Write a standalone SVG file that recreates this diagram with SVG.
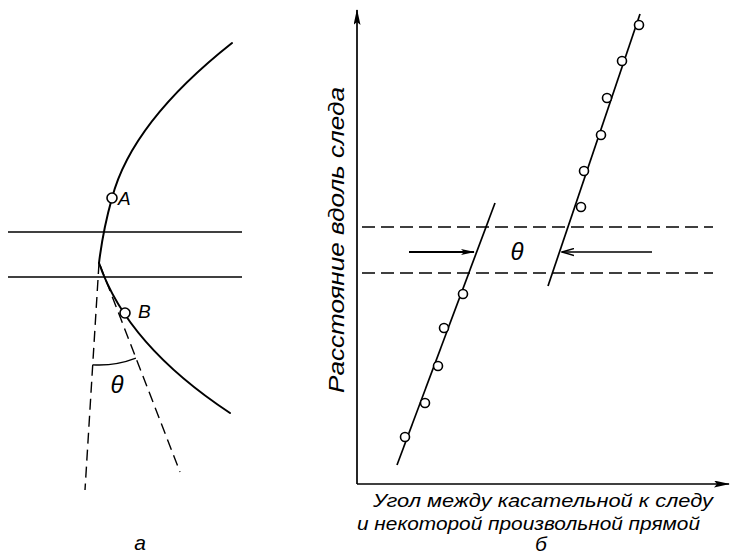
<svg xmlns="http://www.w3.org/2000/svg" width="732" height="560" viewBox="0 0 732 560">
<defs>
<style>
.s{fill:none;stroke:#000;stroke-width:2;stroke-linecap:round}
.t{fill:none;stroke:#000;stroke-width:1.7}
.d{fill:none;stroke:#000;stroke-width:1.4;stroke-dasharray:11 6}
.dr{fill:none;stroke:#000;stroke-width:1.3;stroke-dasharray:13 6}
.p{fill:#fff;stroke:#000;stroke-width:1.6}
.lbl{font-family:"Liberation Sans",Arial,sans-serif;font-style:italic;fill:#000}
</style>
<marker id="ah" viewBox="0 0 14 6" refX="13" refY="3" markerWidth="14" markerHeight="6" markerUnits="userSpaceOnUse" orient="auto">
<path d="M0,0 L14,3 L0,6 L3,3 Z" fill="#000"/>
</marker>
<marker id="ahx" viewBox="0 0 16 7" refX="15" refY="3.5" markerWidth="16" markerHeight="7" markerUnits="userSpaceOnUse" orient="auto">
<path d="M0,0 L16,3.5 L0,7 L3,3.5 Z" fill="#000"/>
</marker>
<marker id="ao" viewBox="0 0 13 9" refX="12" refY="4.5" markerWidth="13" markerHeight="9" markerUnits="userSpaceOnUse" orient="auto">
<path d="M0,1 L12,4.5 L0,8" fill="none" stroke="#000" stroke-width="1.4"/>
</marker>
</defs>
<rect width="732" height="560" fill="#fff"/>

<g id="fig-a">
<line class="t" x1="8" y1="232" x2="242" y2="232"/>
<line class="t" x1="8" y1="277" x2="242" y2="277"/>
<path class="s" d="M232,43 Q132,122 112,198 Q103,230 99,263"/>
<path class="s" d="M99,263 Q127,345 230,413"/>
<line class="d" x1="99" y1="263" x2="85" y2="490"/>
<line class="d" x1="100" y1="265" x2="180" y2="472"/>
<path d="M92.7,364.8 A102,102 0 0 0 135.9,358.1" fill="none" stroke="#000" stroke-width="1.3"/>
<text class="lbl" x="117" y="393" font-size="24" text-anchor="middle">θ</text>
<text class="lbl" x="140" y="550" font-size="21" text-anchor="middle">а</text>
</g>
<g id="point-A">
<circle class="p" cx="112" cy="198" r="5"/>
<text class="lbl" x="118" y="205" font-size="19">A</text>
</g>
<g id="point-B">
<circle class="p" cx="125" cy="313" r="5"/>
<text class="lbl" x="138" y="318" font-size="19">B</text>
</g>

<g id="fig-b">
<line class="t" x1="357" y1="484" x2="357" y2="10" marker-end="url(#ahx)"/>
<line class="t" x1="357" y1="484" x2="729" y2="484" marker-end="url(#ahx)"/>
<text class="lbl" font-size="22" text-anchor="middle" transform="translate(344,240) rotate(-90)" textLength="306" lengthAdjust="spacingAndGlyphs">Расстояние вдоль следа</text>
<text class="lbl" x="373" y="507" font-size="19" textLength="340" lengthAdjust="spacingAndGlyphs">Угол между касательной к следу</text>
<text class="lbl" x="357" y="530" font-size="19" textLength="343" lengthAdjust="spacingAndGlyphs">и некоторой произвольной прямой</text>
<text class="lbl" x="541" y="551" font-size="21" text-anchor="middle">б</text>
<line class="dr" x1="362" y1="227" x2="713" y2="227"/>
<line class="dr" x1="362" y1="273" x2="713" y2="273"/>
<text class="lbl" x="517" y="260" font-size="24" text-anchor="middle">θ</text>
</g>
<g id="track-1">
<line class="t" x1="495" y1="203" x2="397" y2="465"/>
<circle class="p" cx="463" cy="294" r="4.5"/>
<circle class="p" cx="444" cy="328" r="4.5"/>
<circle class="p" cx="438" cy="366" r="4.5"/>
<circle class="p" cx="425" cy="403" r="4.5"/>
<circle class="p" cx="405" cy="437" r="4.5"/>
</g>
<g id="track-2">
<line class="t" x1="640" y1="14" x2="548" y2="286"/>
<circle class="p" cx="639" cy="25" r="4.5"/>
<circle class="p" cx="622" cy="61" r="4.5"/>
<circle class="p" cx="607" cy="98" r="4.5"/>
<circle class="p" cx="601" cy="135" r="4.5"/>
<circle class="p" cx="584" cy="171" r="4.5"/>
<circle class="p" cx="581" cy="207" r="4.5"/>
</g>

<g id="connectors">
<line x1="409" y1="252" x2="474" y2="252" stroke="#000" stroke-width="1.8" marker-end="url(#ah)"/>
<line x1="652" y1="252" x2="562" y2="252" stroke="#000" stroke-width="1.6" marker-end="url(#ao)"/>
</g>
</svg>
